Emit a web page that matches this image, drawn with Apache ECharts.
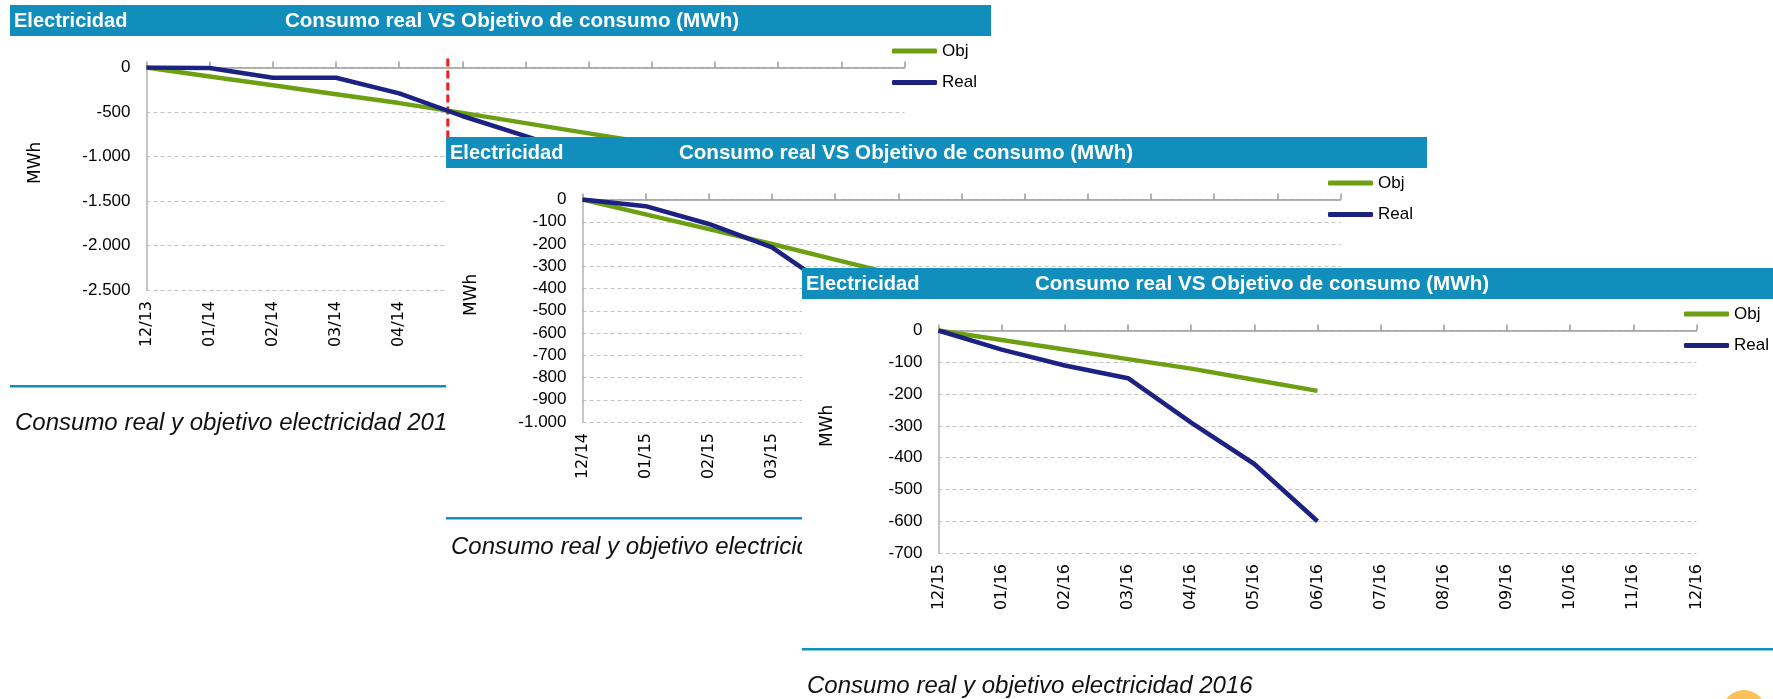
<!DOCTYPE html>
<html>
<head>
<meta charset="utf-8">
<script src="https://cdn.jsdelivr.net/npm/echarts@6/dist/echarts.min.js"></script>
<style>
  html, body { margin: 0; padding: 0; background: #fff; }
  body { width: 1773px; height: 699px; position: relative; overflow: hidden; }
  .panel { position: absolute; background: #fff; }
  #p1 { left: 10px; top: 5px; width: 990px; height: 694px; }
  #p2 { left: 446px; top: 137px; width: 990px; height: 562px; }
  #p3 { left: 802px; top: 268px; width: 971px; height: 431px; }
</style>
</head>
<body>
<div class="panel" id="p1"></div>
<div class="panel" id="p2"></div>
<div class="panel" id="p3"></div>
<script>
// 2014
const months1 = ['12/13', '01/14', '02/14', '03/14', '04/14', '05/14', '06/14', '07/14', '08/14', '09/14', '10/14', '11/14', '12/14']
const obj1 = [0, -100, -200, -300, -400, -510, -625, -740, -855]
const real1 = [0, -5, -115, -115, -290, -545, -770, -1000]
const today1 = 4.77   // linea roja, posicion entre 04/14 y 05/14

// 2015
const months2 = ['12/14', '01/15', '02/15', '03/15', '04/15', '05/15', '06/15', '07/15', '08/15', '09/15', '10/15', '11/15', '12/15']
const obj2 = [0, -67, -133, -200, -270, -340]
const real2 = [0, -30, -110, -215, -410]

// 2016
const months3 = ['12/15', '01/16', '02/16', '03/16', '04/16', '05/16', '06/16', '07/16', '08/16', '09/16', '10/16', '11/16', '12/16']
const obj3 = [0, -30, -60, -90, -120, -155, -190]
const real3 = [0, -60, -110, -150, -290, -420, -600]

const BLUE_BAR = '#118ebc'
const GREEN = '#6d9f12'
const NAVY = '#1b2281'

function fmt(v) {
  let s = Math.abs(v).toString().replace(/\B(?=(\d{3})+(?!\d))/g, '.')
  return (v < 0 ? '-' : '') + s
}

function buildOption(p) {
  let series = []
  if (p.marker != null) {
    series.push({
      type: 'line',
      xAxisIndex: 2,
      data: [[p.marker, 100], [p.marker, p.min]],
      symbol: 'none',
      clip: false,
      silent: true,
      lineStyle: { color: '#f01b1b', width: 3, type: [8, 4] }
    })
  }
  series.push({
    name: 'Obj',
    type: 'line',
    data: p.obj,
    symbol: 'none',
    color: GREEN,
    lineStyle: { width: 4.5, color: GREEN }
  })
  series.push({
    name: 'Real',
    type: 'line',
    data: p.real,
    symbol: 'none',
    color: NAVY,
    lineStyle: { width: 4.5, color: NAVY }
  })

  let xAxis = [
    {
      // linea del eje en el 0, con marcas hacia arriba
      type: 'category',
      position: 'top',
      data: p.months,
      boundaryGap: false,
      axisLine: { onZero: false, lineStyle: { color: '#9a9a9a', width: 1.5 } },
      axisTick: { show: true, length: 6, lineStyle: { color: '#9a9a9a', width: 1.5 } },
      axisLabel: { show: false },
      splitLine: { show: false }
    },
    {
      // etiquetas abajo
      type: 'category',
      position: 'bottom',
      data: p.months,
      boundaryGap: false,
      axisLine: { show: false, onZero: false },
      axisTick: { show: false },
      axisLabel: {
        rotate: 90,
        margin: 11,
        color: '#000',
        fontFamily: 'DejaVu Sans',
        fontSize: 16
      },
      splitLine: { show: false }
    },
    { type: 'value', min: 0, max: 12, show: false }
  ]

  return {
    animation: false,
    grid: { left: 136.5, top: 62.5, width: 758, height: 222.5 },
    legend: {
      orient: 'vertical',
      left: 882,
      top: 36,
      padding: 0,
      itemWidth: 45,
      itemHeight: 5,
      itemGap: 11.5,
      data: [{ name: 'Obj', icon: 'roundRect' }, { name: 'Real', icon: 'roundRect' }],
      textStyle: { fontFamily: 'Liberation Sans', fontSize: 17, color: '#000', lineHeight: 20 }
    },
    xAxis: xAxis,
    yAxis: {
      type: 'value',
      min: p.min,
      max: 0,
      interval: p.step,
      name: 'MWh',
      nameLocation: 'middle',
      nameRotate: 90,
      nameGap: 102,
      nameTextStyle: { fontFamily: 'DejaVu Sans', fontSize: 17, color: '#000', padding: [0, 0, 0, 32] },
      axisLine: { show: true, onZero: false, lineStyle: { color: '#b3b3b3', width: 1.5 } },
      axisTick: { show: false },
      axisLabel: {
        margin: 16,
        color: '#000',
        fontFamily: 'Liberation Sans',
        fontSize: 17,
        formatter: fmt
      },
      splitLine: { lineStyle: { color: '#c4c4c4', width: 1.2, type: [4, 3] } }
    },
    graphic: [
      { type: 'rect', shape: { x: 0, y: 0, width: 981, height: 31 }, style: { fill: BLUE_BAR }, z: 1 },
      {
        type: 'text', x: 4, y: 16, z: 2,
        style: { text: 'Electricidad', fill: '#fff', font: 'bold 20px "Liberation Sans"', verticalAlign: 'middle' }
      },
      {
        type: 'text', x: p.titleX, y: 16, z: 2,
        style: {
          text: 'Consumo real VS Objetivo de consumo (MWh)', fill: '#fff',
          font: 'bold 20.6px "Liberation Sans"', align: 'center', verticalAlign: 'middle'
        }
      },
      { type: 'rect', shape: { x: 0, y: 380, width: 981, height: 2.5 }, style: { fill: BLUE_BAR }, z: 1 },
      {
        type: 'text', x: 5, y: p.captionY, z: 2,
        style: { text: p.caption, fill: '#111', font: 'italic 24px "Liberation Sans"', verticalAlign: 'middle' }
      }
    ].concat(p.extra || []),
    series: series
  }
}

let panels = [
  { id: 'p1', months: months1, obj: obj1, real: real1, min: -2500, step: 500, marker: today1,
    titleX: 502, captionY: 418, caption: 'Consumo real y objetivo electricidad 2014' },
  { id: 'p2', months: months2, obj: obj2, real: real2, min: -1000, step: 100,
    titleX: 460, captionY: 410, caption: 'Consumo real y objetivo electricidad 2015' },
  { id: 'p3', months: months3, obj: obj3, real: real3, min: -700, step: 100,
    titleX: 460, captionY: 418, caption: 'Consumo real y objetivo electricidad 2016',
    extra: [{ type: 'circle', shape: { cx: 942, cy: 444, r: 22 }, style: { fill: '#f8c15c' }, z: 1 }] }
]

panels.forEach(p => {
  let chart = echarts.init(document.getElementById(p.id))
  chart.setOption(buildOption(p))
})
</script>
</body>
</html>
